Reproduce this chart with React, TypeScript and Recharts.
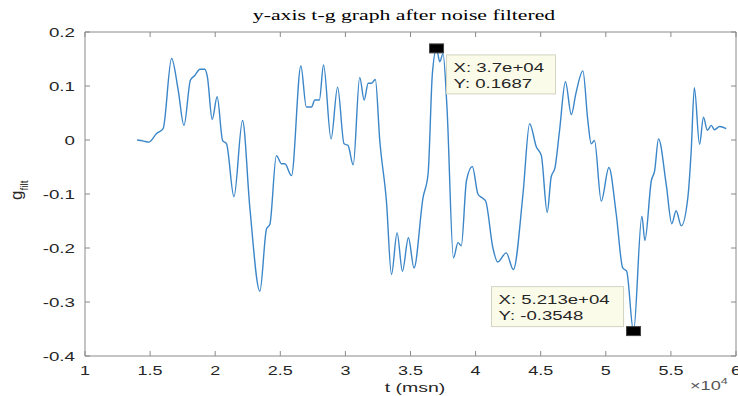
import React from 'react'
import { LineChart, Line, XAxis, YAxis, ReferenceDot, ReferenceLine } from 'recharts'

// t values in units of 1e4 msn
const tValues = [
    1.40, 1.45, 1.49, 1.55, 1.60, 1.665, 1.716, 1.76, 1.81, 1.845, 1.883, 1.92, 1.94, 1.977, 2.015,
    2.057, 2.087, 2.144, 2.21, 2.266, 2.343, 2.394, 2.42, 2.47, 2.51, 2.535, 2.586, 2.658, 2.70, 2.74,
    2.765, 2.80, 2.832, 2.89, 2.94, 2.99, 3.02, 3.06, 3.11, 3.144, 3.175, 3.20, 3.23, 3.264, 3.315,
    3.354, 3.397, 3.438, 3.484, 3.527, 3.596, 3.635, 3.668, 3.70, 3.725, 3.75, 3.78, 3.83, 3.865, 3.89,
    3.93, 3.975, 4.018, 4.05, 4.077, 4.133, 4.17, 4.235, 4.29, 4.364, 4.415, 4.467, 4.505, 4.55, 4.58,
    4.61, 4.645, 4.69, 4.735, 4.77, 4.824, 4.862, 4.888, 4.913, 4.965, 5.024, 5.08, 5.13, 5.16, 5.213,
    5.277, 5.30, 5.35, 5.375, 5.405, 5.464, 5.507, 5.54, 5.58, 5.63, 5.656, 5.68, 5.72, 5.75, 5.78,
    5.81, 5.835, 5.874, 5.925
]

const gFilt = [
    0.000, -0.002, -0.004, 0.012, 0.021, 0.151, 0.092, 0.027, 0.111, 0.120, 0.131, 0.131, 0.117, 0.038, 0.080,
    -0.001, -0.007, -0.105, 0.036, -0.125, -0.280, -0.165, -0.156, -0.029, -0.044, -0.044, -0.066, 0.137, 0.061, 0.061,
    0.074, 0.074, 0.139, 0.002, 0.098, -0.007, -0.010, -0.046, 0.116, 0.074, 0.105, 0.105, 0.112, -0.001, -0.113,
    -0.249, -0.172, -0.243, -0.181, -0.237, -0.107, -0.063, 0.123, 0.1687, 0.145, 0.160, 0.061, -0.218, -0.190, -0.196,
    -0.075, -0.049, -0.100, -0.107, -0.113, -0.200, -0.226, -0.209, -0.240, -0.100, 0.030, -0.013, -0.029, -0.134, -0.069,
    -0.051, 0.018, 0.108, 0.047, 0.086, 0.128, 0.036, -0.007, -0.001, -0.113, -0.051, -0.137, -0.237, -0.243, -0.3548,
    -0.141, -0.186, -0.075, -0.057, 0.002, -0.082, -0.155, -0.131, -0.159, -0.107, -0.020, 0.097, -0.008, 0.042, 0.018,
    0.027, 0.019, 0.025, 0.021
]

const xTicks = [10000, 15000, 20000, 25000, 30000, 35000, 40000, 45000, 50000, 55000, 60000]
const yTicks = [-0.4, -0.3, -0.2, -0.1, 0, 0.1, 0.2]

const dataTips = [
    { t: 37000, g: 0.1687, xText: 'X: 3.7e+04', yText: 'Y: 0.1687', below: true },
    { t: 52130, g: -0.3548, xText: 'X: 5.213e+04', yText: 'Y: -0.3548', below: false }
]

const data = tValues.map((t, i) => ({ t: Math.round(t * 10000), g: gFilt[i] }))

const AXIS = '#8a8a8a'
const LABEL = '#262626'
const SANS = '"Liberation Sans", Arial, sans-serif'
const SERIF = '"Liberation Serif", "Times New Roman", serif'
const STRETCH = 1.5

// box edges of the plot area (MATLAB-style frame with ticks on all sides)
const PLOT_TOP = 32
const PLOT_RIGHT = 736

function fmtX(v: number) {
    return String(v / 10000)
}

function BottomTick({ x, y, payload }: any) {
    return (
        <g>
            <line x1={x} y1={y} x2={x} y2={y - 5} stroke={AXIS} />
            <line x1={x} y1={PLOT_TOP} x2={x} y2={PLOT_TOP + 5} stroke={AXIS} />
            <text transform={`translate(${x},${y + 19}) scale(${STRETCH},1)`} textAnchor="middle"
                fontFamily={SANS} fontSize={12} fill={LABEL}>{fmtX(payload.value)}</text>
        </g>
    )
}

function LeftTick({ x, y, payload }: any) {
    const v = Math.round(payload.value * 10) / 10
    return (
        <g>
            <line x1={x} y1={y} x2={x + 5} y2={y} stroke={AXIS} />
            <line x1={PLOT_RIGHT} y1={y} x2={PLOT_RIGHT - 5} y2={y} stroke={AXIS} />
            <text transform={`translate(${x - 10},${y + 5}) scale(${STRETCH},1)`} textAnchor="end"
                fontFamily={SANS} fontSize={12.5} fill={LABEL}>{String(v)}</text>
        </g>
    )
}

function DataTip({ cx, cy, tip }: any) {
    const bx = tip.below ? cx + 10 : cx - 142
    const by = tip.below ? cy + 6 : cy - 45
    const w = tip.below ? 109 : 132
    const h = tip.below ? 39 : 40
    return (
        <g>
            <rect x={bx} y={by} width={w} height={h} fill="#fbfbe9" stroke="#d4d4c4" />
            <text transform={`translate(${bx + 7},${by + 17}) scale(1.55,1)`} fontFamily={SANS} fontSize={12} fill={LABEL}>{tip.xText}</text>
            <text transform={`translate(${bx + 7},${by + 33}) scale(1.55,1)`} fontFamily={SANS} fontSize={12} fill={LABEL}>{tip.yText}</text>
            <rect x={cx - 7} y={cy - 5} width={14} height={9} fill="#000" stroke="#444" />
        </g>
    )
}

export default function App() {
    return (
        <div style={{ position: 'absolute', left: 0, top: 0, width: 738, height: 396, background: '#fff' }}>
            <LineChart width={738} height={396} data={data} margin={{ top: PLOT_TOP, right: 738 - PLOT_RIGHT, bottom: 10, left: 0 }}>
                <XAxis dataKey="t" type="number" domain={[10000, 60000]} ticks={xTicks} allowDataOverflow
                    height={30} tickSize={0} tickMargin={0} tickLine={false} tick={<BottomTick />}
                    axisLine={{ stroke: AXIS }} interval={0} />
                <YAxis type="number" domain={[-0.4, 0.2]} ticks={yTicks} allowDataOverflow width={85}
                    tickSize={0} tickMargin={0} tickLine={false} tick={<LeftTick />} axisLine={{ stroke: AXIS }} interval={0} />
                <ReferenceLine y={0.2} stroke={AXIS} ifOverflow="visible" />
                <ReferenceLine x={60000} stroke={AXIS} ifOverflow="visible" />
                <Line type="monotone" dataKey="g" stroke="#3b86c8" strokeWidth={1.4} dot={false}
                    activeDot={false} isAnimationActive={false} />
                {dataTips.map((tip) => (
                    <ReferenceDot key={tip.t} x={tip.t} y={tip.g} ifOverflow="visible"
                        shape={(p: any) => <DataTip cx={p.cx} cy={p.cy} tip={tip} />} />
                ))}
            </LineChart>

            <svg width={738} height={396} style={{ position: 'absolute', left: 0, top: 0, pointerEvents: 'none' }}>
                <text transform="translate(404,20) scale(1.45,1)" textAnchor="middle" fontFamily={SERIF}
                    fontSize={15} fill="#000">y-axis t-g graph after noise filtered</text>
                <text transform="translate(415,392) scale(1.5,1)" textAnchor="middle" fontFamily={SANS}
                    fontSize={13} fill={LABEL}>t (msn)</text>
                <text transform="translate(690,390) scale(1.4,1)" fontFamily={SANS} fontSize={13} fill="#555">
                    ×10<tspan dy={-6} fontSize={9}>4</tspan>
                </text>
                <text transform="translate(22,200) rotate(-90)" fontFamily={SANS} fontSize={17} fill={LABEL}>
                    g<tspan dy={6} fontSize={10}>filt</tspan>
                </text>
            </svg>
        </div>
    )
}
